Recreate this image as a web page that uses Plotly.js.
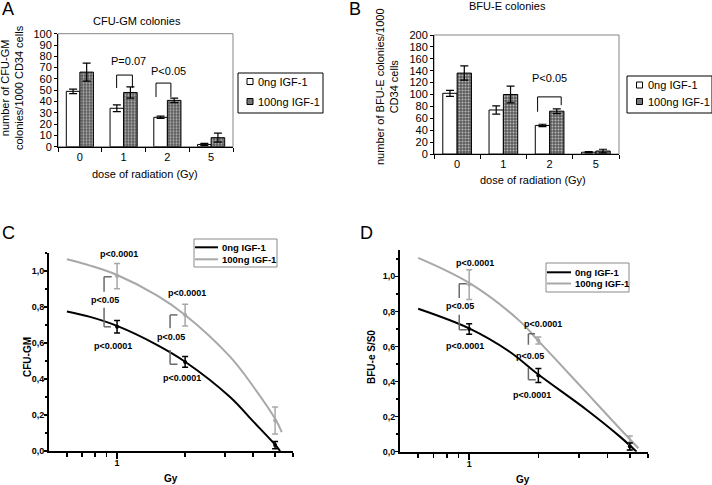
<!DOCTYPE html>
<html>
<head>
<meta charset="utf-8">
<script src="https://cdn.plot.ly/plotly-3.0.1.min.js"></script>
<style>
body { margin: 0; background: #fff; }
#graphics { width: 712px; height: 485px; }
</style>
</head>
<body>
<div id="graphics"></div>
<script>
// A / B: colonies per 1000 CD34 cells
var doses = ['0', '1', '2', '5'];
var cfuCtrl = [49, 34, 26, 2];
var cfuCtrlErr = [2, 3, 1, 1];
var cfuIgf = [66, 48, 41, 8];
var cfuIgfErr = [8, 5, 2, 4];
var bfuCtrl = [102, 74, 48, 3];
var bfuCtrlErr = [5, 7, 2, 1];
var bfuIgf = [136, 100, 72, 5];
var bfuIgfErr = [12, 14, 4, 3];

// C / D: surviving fraction, measured points
var gyPoints = [1, 2, 5];
var cfuSfCtrl = [0.69, 0.495, 0.033];
var cfuSfCtrlErr = [0.035, 0.03, 0.02];
var cfuSfIgf = [0.972, 0.755, 0.17];
var cfuSfIgfErr = [0.07, 0.06, 0.075];
var bfuSfCtrl = [0.70, 0.434, 0.03];
var bfuSfCtrlErr = [0.03, 0.04, 0.02];
var bfuSfIgf = [0.953, 0.634, 0.05];
var bfuSfIgfErr = [0.085, 0.02, 0.04];

// fitted curves
var cfuFitCtrlGy = [0.6, 0.76, 1, 1.5, 2, 3.16, 4.01, 5, 5.26];
var cfuFitCtrl = [0.775, 0.745, 0.695, 0.59, 0.496, 0.30, 0.163, 0.035, 0.0];
var cfuFitIgfGy = [0.6, 0.76, 1, 1.5, 2, 3.16, 4.01, 5.04, 5.35];
var cfuFitIgf = [1.065, 1.03, 0.978, 0.865, 0.756, 0.524, 0.357, 0.172, 0.105];
var bfuFitCtrlGy = [0.6, 1, 1.5, 2, 3.25, 4.53, 5.35];
var bfuFitCtrl = [0.815, 0.703, 0.57, 0.44, 0.238, 0.086, 0.0];
var bfuFitIgfGy = [0.6, 1, 1.666, 2, 2.33, 3.25, 4.53, 5.45];
var bfuFitIgf = [1.105, 0.962, 0.743, 0.632, 0.539, 0.335, 0.131, 0.02];

var names = ['0ng IGF-1', '100ng IGF-1'];

var W = 712, H = 485;
var font = 'Liberation Sans, Arial, sans-serif';
var grey = '#a8a8a8';
function px(x) { return x / W; }
function py(y) { return 1 - y / H; }

function whiteBar(y, err, xa, ya) {
  return {
    type: 'bar', x: doses, y: y, name: names[0], xaxis: xa, yaxis: ya, showlegend: false,
    marker: {color: 'white', line: {color: 'black', width: 1}},
    error_y: {type: 'data', array: err, color: 'black', thickness: 1.2, width: 4}
  };
}
function dotBar(y, err, xa, ya) {
  return {
    type: 'bar', x: doses, y: y, name: names[1], xaxis: xa, yaxis: ya, showlegend: false,
    marker: {color: '#5c5c5c', line: {color: 'black', width: 1},
      pattern: {shape: '.', fgcolor: '#b8b8b8', bgcolor: '#5c5c5c', size: 3, solidity: 0.35}},
    error_y: {type: 'data', array: err, color: 'black', thickness: 1.2, width: 4}
  };
}
function fitLine(x, y, color, xa, ya) {
  return {
    type: 'scatter', mode: 'lines', x: x, y: y, xaxis: xa, yaxis: ya, showlegend: false,
    line: {color: color, width: 2, shape: 'spline'}, hoverinfo: 'skip'
  };
}
function points(y, err, color, xa, ya) {
  return {
    type: 'scatter', mode: 'markers', x: gyPoints, y: y, xaxis: xa, yaxis: ya, showlegend: false,
    marker: {color: color, size: 4},
    error_y: {type: 'data', array: err, color: color, thickness: 1.5, width: 3}
  };
}

var traces = [
  whiteBar(cfuCtrl, cfuCtrlErr, 'x', 'y'),
  dotBar(cfuIgf, cfuIgfErr, 'x', 'y'),
  whiteBar(bfuCtrl, bfuCtrlErr, 'x2', 'y2'),
  dotBar(bfuIgf, bfuIgfErr, 'x2', 'y2'),
  fitLine(cfuFitIgfGy, cfuFitIgf, grey, 'x3', 'y3'),
  fitLine(cfuFitCtrlGy, cfuFitCtrl, 'black', 'x3', 'y3'),
  points(cfuSfIgf, cfuSfIgfErr, grey, 'x3', 'y3'),
  points(cfuSfCtrl, cfuSfCtrlErr, 'black', 'x3', 'y3'),
  fitLine(bfuFitIgfGy, bfuFitIgf, grey, 'x4', 'y4'),
  fitLine(bfuFitCtrlGy, bfuFitCtrl, 'black', 'x4', 'y4'),
  points(bfuSfIgf, bfuSfIgfErr, grey, 'x4', 'y4'),
  points(bfuSfCtrl, bfuSfCtrlErr, 'black', 'x4', 'y4')
];

var shapes = [];
var annotations = [];

function seg(xref, yref, x0, y0, x1, y1, color, width) {
  shapes.push({type: 'line', xref: xref, yref: yref, x0: x0, y0: y0, x1: x1, y1: y1,
    line: {color: color, width: width}});
}
function box(l, t, r, b, color, fill) {
  shapes.push({type: 'rect', xref: 'paper', yref: 'paper', x0: px(l), x1: px(r), y0: py(b), y1: py(t),
    line: {color: color, width: 1}, fillcolor: fill});
}
// bar chart bracket: two legs and a top bar
function barBracket(xa, ya, x0, x1, top, leftEnd, rightEnd) {
  seg(xa, ya, x0, leftEnd, x0, top, 'black', 1);
  seg(xa, ya, x0, top, x1, top, 'black', 1);
  seg(xa, ya, x1, top, x1, rightEnd, 'black', 1);
}
// survival plot half-brackets (upper opens down, lower opens up)
function sideBracket(xa, ya, x0, x1, yA, yB) {
  seg(xa, ya, x0, yA, x1, yA, '#6a6a6a', 1.5);
  seg(xa, ya, x0, yA, x0, yB, '#6a6a6a', 1.5);
}
function text(xref, yref, x, y, t, size, bold, extra) {
  var a = {xref: xref, yref: yref, x: x, y: y, text: t, showarrow: false,
    xanchor: 'center', yanchor: 'middle',
    font: {family: font, size: size, color: 'black', weight: bold ? 'bold' : 'normal'}};
  for (var k in extra) a[k] = extra[k];
  annotations.push(a);
}
function logText(xa, ya, x, y, t) {
  text(xa, ya, Math.log10(x), y, t, 9, true);
}

// plot area boxes of A and B
shapes.push({type: 'rect', xref: 'x domain', yref: 'y domain', x0: 0, x1: 1, y0: 0, y1: 1,
  line: {color: '#858585', width: 1}, layer: 'below'});
shapes.push({type: 'rect', xref: 'x2 domain', yref: 'y2 domain', x0: 0, x1: 1, y0: 0, y1: 1,
  line: {color: '#858585', width: 1}, layer: 'below'});

barBracket('x', 'y', 0.84, 1.2, 63.4, 52, 52);
barBracket('x', 'y', 1.74, 2.08, 56.3, 44, 44);
barBracket('x2', 'y2', 1.74, 2.25, 96, 71, 82);
text('x', 'y', 1.1, 75.5, 'P=0.07', 11, false);
text('x', 'y', 2.02, 67.2, 'P<0.05', 11, false);
text('x2', 'y2', 2.0, 127, 'P<0.05', 11, false);

// C brackets and p values
sideBracket('x3', 'y3', 0.876, 0.947, 0.968, 0.885);
sideBracket('x3', 'y3', 0.876, 0.94, 0.69, 0.796);
sideBracket('x3', 'y3', 1.716, 1.85, 0.756, 0.682);
sideBracket('x3', 'y3', 1.716, 1.85, 0.482, 0.561);
logText('x3', 'y3', 1.02, 1.095, 'p<0.0001');
logText('x3', 'y3', 0.885, 0.839, 'p<0.05');
logText('x3', 'y3', 0.96, 0.585, 'p<0.0001');
logText('x3', 'y3', 2.04, 0.878, 'p<0.0001');
logText('x3', 'y3', 1.73, 0.635, 'p<0.05');
logText('x3', 'y3', 1.93, 0.404, 'p<0.0001');

// D brackets and p values
sideBracket('x4', 'y4', 0.905, 0.977, 0.957, 0.877);
sideBracket('x4', 'y4', 0.905, 0.977, 0.695, 0.781);
sideBracket('x4', 'y4', 1.81, 1.935, 0.672, 0.61);
sideBracket('x4', 'y4', 1.81, 1.95, 0.41, 0.477);
logText('x4', 'y4', 1.06, 1.077, 'p<0.0001');
logText('x4', 'y4', 0.914, 0.829, 'p<0.05');
logText('x4', 'y4', 0.96, 0.60, 'p<0.0001');
logText('x4', 'y4', 2.1, 0.73, 'p<0.0001');
logText('x4', 'y4', 1.84, 0.543, 'p<0.05');
logText('x4', 'y4', 1.87, 0.324, 'p<0.0001');

// legends for the bar charts: small squares
function barLegend(l, t, r, b, cx, y1, y2) {
  box(l, t, r, b, 'black', 'white');
  box(cx - 3, y1 - 3, cx + 3, y1 + 3, 'black', 'white');
  box(cx - 3, y2 - 3, cx + 3, y2 + 3, 'black', '#777777');
  text('paper', 'paper', px(cx + 6), py(y1), names[0], 11, false, {xanchor: 'left'});
  text('paper', 'paper', px(cx + 6), py(y2), names[1], 11, false, {xanchor: 'left'});
}
barLegend(238, 73, 323, 113, 250, 81.5, 101.5);
barLegend(627, 76, 712, 113, 639.5, 85, 101.5);

// legends for C and D: line samples
function lineLegend(l, t, r, b, y1, y2, lineEnd) {
  box(l, t, r, b, '#8a8a8a', 'white');
  seg('paper', 'paper', px(l + 1), py(y1), px(lineEnd), py(y1), 'black', 2);
  seg('paper', 'paper', px(l + 1), py(y2), px(lineEnd), py(y2), grey, 2);
  text('paper', 'paper', px(lineEnd + 2), py(y1), names[0], 9.5, true, {xanchor: 'left'});
  text('paper', 'paper', px(lineEnd + 2), py(y2), names[1], 9.5, true, {xanchor: 'left'});
}
lineLegend(194, 239, 277, 267, 247.3, 259.3, 218);
lineLegend(546, 263, 629, 292, 272.3, 283.5, 571);

// titles and panel letters
text('paper', 'paper', px(137), py(21), 'CFU-GM colonies', 11, false);
text('paper', 'paper', px(507), py(6), 'BFU-E colonies', 11, false);
text('paper', 'paper', px(12), py(88), 'number of CFU-GM<br>colonies/1000 CD34 cells', 11, false, {textangle: -90});
text('paper', 'paper', px(387), py(87), 'number of BFU-E colonies/1000<br>CD34 cells', 11, false, {textangle: -90});
text('paper', 'paper', px(145), py(174), 'dose of radiation (Gy)', 11, false);
text('paper', 'paper', px(533), py(180), 'dose of radiation (Gy)', 11, false);
text('paper', 'paper', px(27), py(357), 'CFU-GM', 10, true, {textangle: -90});
text('paper', 'paper', px(371), py(357), 'BFU-e S/S0', 10, true, {textangle: -90});
text('paper', 'paper', px(171), py(478), 'Gy', 10, true);
text('paper', 'paper', px(523), py(479), 'Gy', 10, true);
text('paper', 'paper', px(8), py(9), 'A', 18, false);
text('paper', 'paper', px(355), py(9), 'B', 18, false);
text('paper', 'paper', px(8), py(233), 'C', 18, false);
text('paper', 'paper', px(366), py(233), 'D', 18, false);

function barX(domain, anchor) {
  return {domain: domain, anchor: anchor, type: 'category', range: [-0.5, 3.5],
    showline: true, linecolor: 'black', linewidth: 1, ticks: 'outside', tickson: 'boundaries',
    ticklen: 4, tickcolor: 'black', showgrid: false, zeroline: false, tickfont: {size: 11}};
}
function barY(domain, anchor, top, step) {
  return {domain: domain, anchor: anchor, range: [0, top], dtick: step, tick0: 0,
    showline: true, linecolor: 'black', linewidth: 1, ticks: 'outside', ticklen: 3,
    tickcolor: 'black', showgrid: false, zeroline: false, tickfont: {size: 11}};
}
function gyX(domain, anchor) {
  return {domain: domain, anchor: anchor, type: 'log', range: [Math.log10(0.5), Math.log10(6)],
    tickmode: 'array', tickvals: [1], ticktext: ['1'], ticks: 'outside', ticklen: 6, tickwidth: 1.5,
    ticklabelstandoff: -4,
    tickcolor: 'black', showline: true, linecolor: 'black', linewidth: 2, showgrid: false, zeroline: false,
    tickfont: {size: 9, weight: 'bold'},
    minor: {tickmode: 'array', tickvals: [0.6, 0.7, 0.8, 0.9, 2, 3, 4, 5, 6], ticks: 'outside',
      ticklen: 4, tickwidth: 1.5, tickcolor: 'black', showgrid: false}};
}
function sfY(domain, anchor, top) {
  return {domain: domain, anchor: anchor, range: [0, top], dtick: 0.2, tick0: 0, tickformat: '.1f',
    ticks: 'outside', ticklen: 3, tickwidth: 1.5, tickcolor: 'black', showline: true,
    ticklabelstandoff: -2,
    linecolor: 'black', linewidth: 2, showgrid: false, zeroline: false,
    tickfont: {size: 9, weight: 'bold'},
    minor: {dtick: 0.1, ticks: 'outside', ticklen: 2, tickwidth: 1.5, tickcolor: 'black', showgrid: false}};
}

var layout = {
  width: W, height: H,
  margin: {l: 0, r: 0, t: 0, b: 0, autoexpand: false},
  paper_bgcolor: 'white', plot_bgcolor: 'white',
  separators: ',.',
  font: {family: font, size: 11, color: 'black'},
  showlegend: false,
  barmode: 'group', bargap: 0.38, bargroupgap: 0,
  xaxis: barX([px(58), px(233)], 'y'),
  yaxis: barY([py(146.7), py(33.7)], 'x', 100, 10),
  xaxis2: barX([px(434), px(619)], 'y2'),
  yaxis2: barY([py(154), py(35)], 'x2', 200, 20),
  xaxis3: gyX([px(49), px(293)], 'y3'),
  yaxis3: sfY([py(451), py(253)], 'x3', 1.1),
  xaxis4: gyX([px(400), px(648)], 'y4'),
  yaxis4: sfY([py(451.7), py(250)], 'x4', 1.15),
  shapes: shapes,
  annotations: annotations
};

Plotly.newPlot('graphics', traces, layout, {staticPlot: true});
</script>
</body>
</html>
